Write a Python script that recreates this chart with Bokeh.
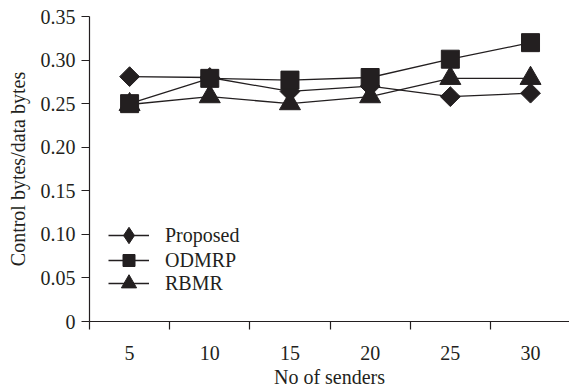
import math
from bokeh.plotting import figure
from bokeh.models import FixedTicker, Legend, LegendItem, ColumnDataSource
from bokeh.embed import file_html
from bokeh.resources import INLINE

# ---- data ----
senders = [5, 10, 15, 20, 25, 30]
tick_bounds = [2.5, 7.5, 12.5, 17.5, 22.5, 27.5]
proposed = [0.281, 0.280, 0.264, 0.270, 0.258, 0.262]
odmrp = [0.250, 0.279, 0.277, 0.280, 0.301, 0.320]
rbmr = [0.249, 0.258, 0.250, 0.258, 0.279, 0.279]
y_ticks = [0, 0.05, 0.10, 0.15, 0.20, 0.25, 0.30, 0.35]
y_labels = ["0", "0.05", "0.10", "0.15", "0.20", "0.25", "0.30", "0.35"]
series_names = ["Proposed", "ODMRP", "RBMR"]

INK = "#231f20"
FONT = "Liberation Serif"

p = figure(width=569, height=390, x_range=(2.5, 32.43), y_range=(0, 0.35),
           output_backend="svg", toolbar_location=None,
           min_border_left=89, min_border_right=0, min_border_top=16,
           min_border_bottom=65)
p.outline_line_color = None
p.xgrid.visible = False
p.ygrid.visible = False
p.background_fill_color = "white"
p.border_fill_color = "white"

# x axis
xa = p.xaxis[0]
xa.ticker = FixedTicker(ticks=senders, minor_ticks=tick_bounds)
xa.major_tick_out = 0
xa.major_tick_in = 0
xa.minor_tick_out = 8
xa.minor_tick_in = 0
xa.minor_tick_line_color = INK
xa.minor_tick_line_width = 1.2
xa.axis_line_color = INK
xa.axis_line_width = 1.2
xa.major_label_standoff = 16
xa.major_label_text_font = FONT
xa.major_label_text_font_size = "20px"
xa.major_label_text_color = INK
xa.axis_label = "No of senders"
xa.axis_label_text_font = FONT
xa.axis_label_text_font_size = "20px"
xa.axis_label_text_font_style = "normal"
xa.axis_label_text_color = INK
xa.axis_label_standoff = 3

# y axis
ya = p.yaxis[0]
ya.ticker = FixedTicker(ticks=y_ticks)
ya.major_label_overrides = {t: l for t, l in zip(y_ticks, y_labels)}
ya.major_tick_out = 8
ya.major_tick_in = 0
ya.major_tick_line_color = INK
ya.major_tick_line_width = 1.2
ya.minor_tick_line_color = None
ya.axis_line_color = INK
ya.axis_line_width = 1.2
ya.major_label_standoff = 6
ya.major_label_text_font = FONT
ya.major_label_text_font_size = "20px"
ya.major_label_text_color = INK
ya.axis_label = "Control bytes/data bytes"
ya.axis_label_text_font = FONT
ya.axis_label_text_font_size = "20px"
ya.axis_label_text_font_style = "normal"
ya.axis_label_text_color = INK
ya.axis_label_standoff = 9

src = ColumnDataSource(dict(x=senders, p=proposed, o=odmrp, r=rbmr))

l_p = p.line("x", "p", source=src, line_color=INK, line_width=1.3)
l_o = p.line("x", "o", source=src, line_color=INK, line_width=1.3)
l_r = p.line("x", "r", source=src, line_color=INK, line_width=1.3)

m_r = p.scatter("x", "r", source=src, marker="triangle", size=21,
                fill_color=INK, line_color=INK)
# tiny diamond glyph hidden under the rotated squares; it supplies the
# diamond shape drawn in the legend
leg_d = p.scatter("x", "p", source=src, marker="diamond", size=1,
                  fill_color=INK, line_color=INK)
m_p = p.scatter("x", "p", source=src, marker="square", angle=math.pi / 4,
                size=14, fill_color=INK, line_color=INK)
m_o = p.scatter("x", "o", source=src, marker="square", size=18,
                fill_color=INK, line_color=INK)


def make_legend(label, renderers, center_offset, gh):
    return Legend(items=[LegendItem(label=label, renderers=renderers)],
                  location=(19, center_offset - gh / 2), orientation="vertical",
                  glyph_width=41, glyph_height=gh, spacing=0,
                  padding=0, margin=0, label_standoff=16, label_height=20,
                  label_text_font=FONT, label_text_font_size="20px",
                  label_text_color=INK, border_line_color=None,
                  background_fill_alpha=0)


p.add_layout(make_legend(series_names[0], [l_p, leg_d], 86, 44))
p.add_layout(make_legend(series_names[1], [l_o, m_o], 61, 30))
p.add_layout(make_legend(series_names[2], [l_r, m_r], 38, 38))

open("out.html", "w").write(file_html(p, INLINE))
